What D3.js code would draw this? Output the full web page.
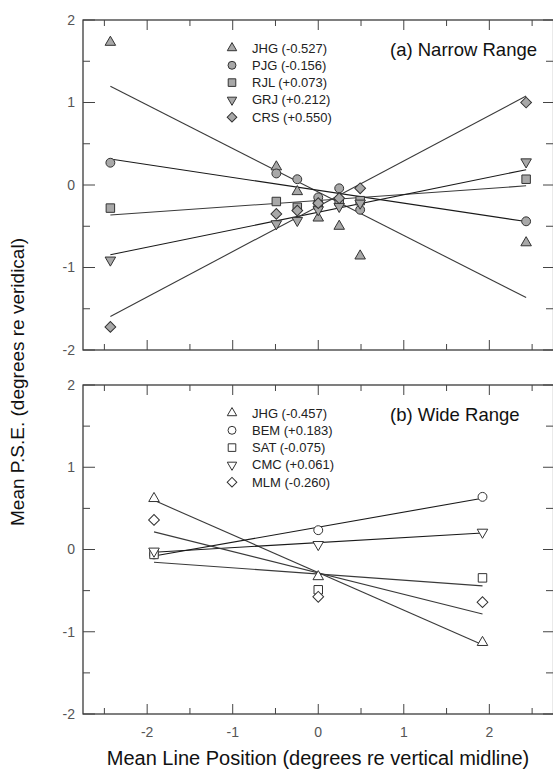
<!DOCTYPE html>
<html>
<head>
<meta charset="utf-8">
<script src="https://cdn.jsdelivr.net/npm/d3@7"></script>
<style>
  html, body { margin: 0; padding: 0; background: #fff; }
  svg { display: block; font-family: "Liberation Sans", Arial, sans-serif; }
</style>
</head>
<body>
<svg id="chart" width="553" height="771"></svg>
<script>
// ---- Panel (a): narrow range ----
const xNarrow = [-2.43, -0.49, -0.245, 0, 0.245, 0.49, 2.43];
const namesA = ["JHG", "PJG", "RJL", "GRJ", "CRS"];
const slopesA = [-0.527, -0.156, 0.073, 0.212, 0.550];
const jhgA = [1.73, 0.22, -0.08, -0.40, -0.50, -0.86, -0.70];
const pjgA = [0.27, 0.14, 0.07, -0.15, -0.04, -0.30, -0.44];
const rjlA = [-0.28, -0.20, -0.27, -0.24, -0.20, -0.19, 0.07];
const grjA = [-0.91, -0.47, -0.43, -0.30, -0.26, -0.22, 0.28];
const crsA = [-1.72, -0.35, -0.31, -0.22, -0.16, -0.04, 1.00];

// ---- Panel (b): wide range ----
const xWide = [-1.92, 0, 1.92];
const namesB = ["JHG", "BEM", "SAT", "CMC", "MLM"];
const slopesB = [-0.457, 0.183, -0.075, 0.061, -0.260];
const jhgB = [0.62, -0.33, -1.13];
const bemB = [-0.06, 0.235, 0.64];
const satB = [-0.06, -0.49, -0.345];
const cmcB = [-0.02, 0.06, 0.21];
const mlmB = [0.36, -0.575, -0.64];

// Axis ticks
const xMajor = [-2, -1, 0, 1, 2];
const yMajor = [-2, -1, 0, 1, 2];

const svg = d3.select("#chart");
const frameColor = "#2a2a2a";
const tickColor = "#444";

const x = d3.scaleLinear().domain([-2.75, 2.75]).range([83, 553.5]);

const shapes = [
  { type: d3.symbolTriangle, size: 48, rot: 0 },
  { type: d3.symbolCircle, size: 62, rot: 0 },
  { type: d3.symbolSquare, size: 72, rot: 0 },
  { type: d3.symbolTriangle, size: 48, rot: 180 },
  { type: d3.symbolSquare, size: 58, rot: 45 }
];

function fitLine(xs, ys, slope) {
  const mx = d3.mean(xs), my = d3.mean(ys);
  const b = my - slope * mx;
  const x0 = d3.min(xs), x1 = d3.max(xs);
  return [[x0, b + slope * x0], [x1, b + slope * x1]];
}

function drawPanel(opts) {
  const { top, bottom, xs, series, names, slopes, fill, title, showXLabels } = opts;
  const y = d3.scaleLinear().domain([-2, 2]).range([bottom, top]);
  const g = svg.append("g");

  // Frame
  g.append("rect")
    .attr("x", x.range()[0]).attr("y", top)
    .attr("width", x.range()[1] - x.range()[0]).attr("height", bottom - top)
    .attr("fill", "none").attr("stroke", frameColor).attr("stroke-width", 1.2);

  // Inward ticks on all four sides
  const xMinor = d3.range(-2.5, 2.51, 1);
  const yMinor = d3.range(-1.5, 1.51, 1);
  const tk = g.append("g").attr("stroke", tickColor).attr("stroke-width", 1);
  xMajor.forEach(v => {
    tk.append("line").attr("x1", x(v)).attr("x2", x(v)).attr("y1", top).attr("y2", top + 10);
    tk.append("line").attr("x1", x(v)).attr("x2", x(v)).attr("y1", bottom).attr("y2", bottom - 10);
  });
  xMinor.forEach(v => {
    tk.append("line").attr("x1", x(v)).attr("x2", x(v)).attr("y1", top).attr("y2", top + 6);
    tk.append("line").attr("x1", x(v)).attr("x2", x(v)).attr("y1", bottom).attr("y2", bottom - 6);
  });
  const xl = x.range()[0], xr = 553;
  yMajor.forEach(v => {
    tk.append("line").attr("x1", xl).attr("x2", xl + 12).attr("y1", y(v)).attr("y2", y(v));
    tk.append("line").attr("x1", xr).attr("x2", xr - 10).attr("y1", y(v)).attr("y2", y(v));
  });
  yMinor.forEach(v => {
    tk.append("line").attr("x1", xl).attr("x2", xl + 7).attr("y1", y(v)).attr("y2", y(v));
    tk.append("line").attr("x1", xr).attr("x2", xr - 7).attr("y1", y(v)).attr("y2", y(v));
  });

  // Y tick labels
  g.append("g").selectAll("text").data(yMajor).join("text")
    .attr("x", 75).attr("y", d => y(d)).attr("dy", "0.35em")
    .attr("text-anchor", "end").attr("font-size", 14).attr("fill", "#555")
    .text(d => d);

  if (showXLabels) {
    g.append("g").selectAll("text").data(xMajor).join("text")
      .attr("x", d => x(d)).attr("y", bottom + 18).attr("dy", "0.35em")
      .attr("text-anchor", "middle").attr("font-size", 14).attr("fill", "#555")
      .text(d => d);
  }

  // Regression lines
  const lineGen = d3.line().x(d => x(d[0])).y(d => y(d[1]));
  series.forEach((ys, i) => {
    g.append("path")
      .attr("d", lineGen(fitLine(xs, ys, slopes[i])))
      .attr("fill", "none")
      .attr("stroke", i % 2 === 0 ? "#3a3a3a" : "#1a1a1a")
      .attr("stroke-width", 1.1);
  });

  // Data points
  series.forEach((ys, i) => {
    const s = shapes[i];
    const sym = d3.symbol().type(s.type).size(s.size);
    g.append("g").selectAll("path").data(xs.map((v, k) => [v, ys[k]])).join("path")
      .attr("d", sym)
      .attr("transform", d => `translate(${x(d[0])},${y(d[1])}) rotate(${s.rot})`)
      .attr("fill", fill).attr("stroke", "#333").attr("stroke-width", 1);
  });

  // Legend
  const lg = g.append("g");
  names.forEach((n, i) => {
    const ly = top + 28 + i * 17.3;
    const s = shapes[i];
    lg.append("path")
      .attr("d", d3.symbol().type(s.type).size(s.size * 0.8))
      .attr("transform", `translate(232,${ly}) rotate(${s.rot})`)
      .attr("fill", fill).attr("stroke", "#333").attr("stroke-width", 1);
    const sl = slopes[i];
    lg.append("text")
      .attr("x", 252).attr("y", ly).attr("dy", "0.35em")
      .attr("font-size", 13).attr("fill", "#222")
      .text(`${n} (${sl >= 0 ? "+" : "-"}${Math.abs(sl).toFixed(3)})`);
  });

  g.append("text")
    .attr("x", 390).attr("y", top + 30).attr("dy", "0.35em")
    .attr("font-size", 18.5).attr("fill", "#111")
    .text(title);
}

drawPanel({
  top: 20, bottom: 350, xs: xNarrow,
  series: [jhgA, pjgA, rjlA, grjA, crsA],
  names: namesA, slopes: slopesA, fill: "#a8a8a8",
  title: "(a) Narrow Range", showXLabels: false
});

drawPanel({
  top: 385, bottom: 714, xs: xWide,
  series: [jhgB, bemB, satB, cmcB, mlmB],
  names: namesB, slopes: slopesB, fill: "#fff",
  title: "(b) Wide Range", showXLabels: true
});

// Axis titles
svg.append("text")
  .attr("x", 318).attr("y", 765)
  .attr("text-anchor", "middle").attr("font-size", 20).attr("fill", "#111")
  .text("Mean Line Position (degrees re vertical midline)");

svg.append("text")
  .attr("transform", "translate(24,382) rotate(-90)")
  .attr("text-anchor", "middle").attr("font-size", 19).attr("fill", "#111")
  .text("Mean P.S.E. (degrees re veridical)");
</script>
</body>
</html>
